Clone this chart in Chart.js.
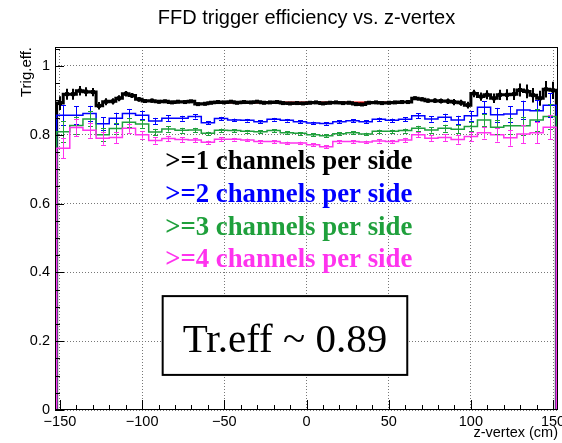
<!DOCTYPE html>
<html>
<head>
<meta charset="utf-8">
<script src="https://cdn.jsdelivr.net/npm/chart.js@4/dist/chart.umd.min.js"></script>
<style>
  html, body { margin: 0; padding: 0; background: #fff; }
</style>
</head>
<body>
<canvas id="chart" width="562" height="443"></canvas>
<script>
const titleText = 'FFD trigger efficiency vs. z-vertex';
const xTitle = 'z-vertex (cm)';
const yTitle = 'Trig.eff.';

// >=1 channel, 4 cm bins
const zFine = [
  -150, -146, -142, -138, -134, -130, -126, -122, -118, -114, -110, -106, -102, -98, -94,
  -90, -86, -82, -78, -74, -70, -66, -62, -58, -54, -50, -46, -42, -38, -34,
  -30, -26, -22, -18, -14, -10, -6, -2, 2, 6, 10, 14, 18, 22, 26,
  30, 34, 38, 42, 46, 50, 54, 58, 62, 66, 70, 74, 78, 82, 86,
  90, 94, 98, 102, 106, 110, 114, 118, 122, 126, 130, 134, 138, 142, 146, 150
];
const eff1 = [
  0.892, 0.918, 0.918, 0.928, 0.925, 0.924, 0.884, 0.896, 0.897, 0.906, 0.919, 0.914, 0.903, 0.898, 0.899,
  0.896, 0.897, 0.894, 0.896, 0.895, 0.897, 0.889, 0.890, 0.893, 0.895, 0.894, 0.896, 0.893, 0.895, 0.894,
  0.896, 0.893, 0.894, 0.895, 0.892, 0.891, 0.892, 0.891, 0.893, 0.894, 0.891, 0.893, 0.894, 0.892, 0.893,
  0.889, 0.888, 0.893, 0.894, 0.892, 0.893, 0.894, 0.895, 0.895, 0.906, 0.903, 0.899, 0.899, 0.898, 0.897,
  0.895, 0.893, 0.886, 0.920, 0.911, 0.916, 0.906, 0.916, 0.916, 0.918, 0.930, 0.926, 0.915, 0.906, 0.932, 0.929
];
const err1 = [
  0.020, 0.016, 0.016, 0.014, 0.013, 0.012, 0.011, 0.010, 0.009, 0.009, 0.008, 0.007, 0.007, 0.006, 0.006,
  0.005, 0.005, 0.005, 0.004, 0.004, 0.004, 0.004, 0.004, 0.003, 0.003, 0.003, 0.003, 0.003, 0.003, 0.003,
  0.003, 0.003, 0.003, 0.003, 0.003, 0.003, 0.003, 0.003, 0.003, 0.003, 0.003, 0.003, 0.003, 0.003, 0.003,
  0.003, 0.003, 0.003, 0.003, 0.004, 0.004, 0.004, 0.004, 0.005, 0.005, 0.006, 0.006, 0.007, 0.007, 0.008,
  0.009, 0.009, 0.010, 0.011, 0.012, 0.013, 0.014, 0.015, 0.016, 0.017, 0.019, 0.020, 0.021, 0.022, 0.024, 0.025
];

// >=2, >=3, >=4 channels, 8 cm bins
const zCoarse = [
  -148, -140, -132, -124, -116, -108, -100, -92, -84, -76, -68, -60, -52, -44, -36, -28, -20, -12, -4,
  4, 12, 20, 28, 36, 44, 52, 60, 68, 76, 84, 92, 100, 108, 116, 124, 132, 140, 148
];
const eff2 = [
  0.857, 0.857, 0.862, 0.832, 0.848, 0.862, 0.857, 0.840, 0.848, 0.848,
  0.853, 0.835, 0.847, 0.843, 0.842, 0.838, 0.845, 0.842, 0.838, 0.834,
  0.833, 0.838, 0.841, 0.838, 0.845, 0.842, 0.845, 0.855, 0.846, 0.851,
  0.843, 0.855, 0.880, 0.858, 0.860, 0.872, 0.870, 0.886
];
const eff3 = [
  0.809, 0.827, 0.846, 0.800, 0.818, 0.836, 0.831, 0.808, 0.817, 0.813,
  0.814, 0.804, 0.813, 0.812, 0.810, 0.809, 0.812, 0.806, 0.804, 0.800,
  0.797, 0.803, 0.806, 0.802, 0.810, 0.810, 0.812, 0.819, 0.814, 0.819,
  0.816, 0.824, 0.843, 0.822, 0.826, 0.826, 0.843, 0.853
];
const eff4 = [
  0.761, 0.821, 0.813, 0.790, 0.792, 0.819, 0.800, 0.783, 0.789, 0.786,
  0.785, 0.778, 0.787, 0.787, 0.785, 0.780, 0.780, 0.776, 0.776, 0.771,
  0.765, 0.780, 0.780, 0.779, 0.782, 0.780, 0.785, 0.800, 0.790, 0.792,
  0.786, 0.795, 0.806, 0.800, 0.791, 0.802, 0.806, 0.822
];
const errCoarse = [
  0.030, 0.026, 0.022, 0.019, 0.016, 0.013, 0.011, 0.009, 0.008, 0.007,
  0.006, 0.005, 0.005, 0.004, 0.004, 0.004, 0.004, 0.004, 0.004, 0.004,
  0.004, 0.004, 0.004, 0.004, 0.005, 0.005, 0.006, 0.007, 0.008, 0.010,
  0.012, 0.014, 0.017, 0.020, 0.023, 0.027, 0.031, 0.035
];

const fitRange = [-50, 50];
const fitValue = 0.894;

const labelLines = ['>=1 channels per side', '>=2 channels per side', '>=3 channels per side', '>=4 channels per side'];
const labelColors = ['#000000', '#0000ff', '#1fa03c', '#ff33ee'];
const labelY = [0.700, 0.605, 0.510, 0.415];
const boxText = 'Tr.eff ~ 0.89';

// histogram outline: points at bin centres plus the outer edges, drawn with stepped 'middle'
function histPoints(centers, values, width) {
  const lo = centers[0] - width / 2;
  const hi = centers[centers.length - 1] + width / 2;
  const pts = [{ x: lo, y: 0 }, { x: lo, y: values[0] }];
  centers.forEach((c, i) => pts.push({ x: c, y: values[i] }));
  pts.push({ x: hi, y: values[values.length - 1] }, { x: hi, y: 0 });
  return pts;
}

function histSet(label, centers, values, errs, width, color, lw, order, marker) {
  return {
    label,
    data: histPoints(centers, values, width),
    borderColor: color,
    borderWidth: lw,
    stepped: 'middle',
    pointRadius: 0,
    fill: false,
    order,
    bars: { x: centers, y: values, e: errs, marker },
  };
}

const errorBars = {
  id: 'errorBars',
  afterDatasetsDraw(chart) {
    const { ctx, chartArea, scales: { x, y } } = chart;
    ctx.save();
    ctx.beginPath();
    ctx.rect(chartArea.left, chartArea.top, chartArea.width, chartArea.height);
    ctx.clip();
    // same drawing order as the lines: higher order first
    const sets = chart.data.datasets.filter((d) => d.bars).sort((a, b) => b.order - a.order);
    sets.forEach((ds) => {
      const b = ds.bars;
      ctx.strokeStyle = ds.borderColor;
      ctx.fillStyle = ds.borderColor;
      ctx.lineWidth = b.marker ? 2 : 1;
      b.x.forEach((z, k) => {
        const px = Math.round(x.getPixelForValue(z)) + (b.marker ? 0 : 0.5);
        const yLo = y.getPixelForValue(b.y[k] - b.e[k]);
        const yHi = y.getPixelForValue(b.y[k] + b.e[k]);
        ctx.beginPath();
        ctx.moveTo(px, yLo);
        ctx.lineTo(px, yHi);
        if (!b.marker) {
          ctx.moveTo(px - 2.5, Math.round(yLo) + 0.5);
          ctx.lineTo(px + 2.5, Math.round(yLo) + 0.5);
          ctx.moveTo(px - 2.5, Math.round(yHi) + 0.5);
          ctx.lineTo(px + 2.5, Math.round(yHi) + 0.5);
        }
        ctx.stroke();
        if (b.marker) {
          const py = y.getPixelForValue(b.y[k]);
          ctx.fillRect(px - 2, py - 2, 4, 4);
        }
      });
    });
    ctx.restore();
  },
};

const rootFrame = {
  id: 'rootFrame',
  afterDraw(chart) {
    const { ctx, chartArea: { left, top, right, bottom }, scales: { x, y } } = chart;
    ctx.save();
    ctx.strokeStyle = '#000';
    ctx.lineWidth = 1;
    ctx.beginPath();
    // inward ticks on the x axis
    for (let v = -150; v <= 150; v += 10) {
      const px = Math.round(x.getPixelForValue(v)) + 0.5;
      const len = v % 50 === 0 ? 10 : 5;
      ctx.moveTo(px, bottom);
      ctx.lineTo(px, bottom - len);
    }
    // inward ticks on the y axis
    for (let i = 0; i <= 21; i++) {
      const py = Math.round(y.getPixelForValue(i * 0.05)) + 0.5;
      const len = i % 4 === 0 ? 9 : 5;
      ctx.moveTo(left, py);
      ctx.lineTo(left + len, py);
    }
    ctx.stroke();
    ctx.strokeRect(left + 0.5, top + 0.5, right - left - 1, bottom - top - 1);
    ctx.restore();
  },
};

const annotations = {
  id: 'annotations',
  afterDatasetsDraw(chart) {
    const { ctx, scales: { x, y } } = chart;
    ctx.save();
    ctx.textAlign = 'left';
    ctx.textBaseline = 'alphabetic';
    ctx.font = 'bold 26.8px "Liberation Serif"';
    labelLines.forEach((t, i) => {
      ctx.fillStyle = labelColors[i];
      ctx.fillText(t, x.getPixelForValue(-86), y.getPixelForValue(labelY[i]));
    });
    const bx0 = x.getPixelForValue(-87.5);
    const bx1 = x.getPixelForValue(61.3);
    const by0 = y.getPixelForValue(0.331);
    const by1 = y.getPixelForValue(0.102);
    ctx.fillStyle = '#fff';
    ctx.fillRect(bx0, by0, bx1 - bx0, by1 - by0);
    ctx.strokeStyle = '#000';
    ctx.lineWidth = 2;
    ctx.strokeRect(bx0, by0, bx1 - bx0, by1 - by0);
    ctx.fillStyle = '#000';
    ctx.textAlign = 'center';
    ctx.font = '41px "Liberation Serif"';
    ctx.fillText(boxText, (bx0 + bx1) / 2, y.getPixelForValue(0.169));
    ctx.restore();
  },
};

new Chart(document.getElementById('chart'), {
  type: 'line',
  data: {
    datasets: [
      {
        label: 'fit',
        data: [{ x: fitRange[0], y: fitValue }, { x: fitRange[1], y: fitValue }],
        borderColor: '#ff0000',
        borderWidth: 2,
        pointRadius: 0,
        order: 5,
      },
      histSet('>=1', zFine, eff1, err1, 4, '#000000', 3, 4, true),
      histSet('>=2', zCoarse, eff2, errCoarse, 8, '#0000ff', 1.5, 3, false),
      histSet('>=3', zCoarse, eff3, errCoarse, 8, '#1fa03c', 1.5, 2, false),
      histSet('>=4', zCoarse, eff4, errCoarse, 8, '#ff33ee', 1.5, 1, false),
    ],
  },
  options: {
    responsive: false,
    animation: false,
    devicePixelRatio: 1,
    layout: { padding: { left: 0, right: 4, top: 0, bottom: 0 } },
    scales: {
      x: {
        type: 'linear',
        min: -153,
        max: 153,
        afterFit(scale) {
          scale.height = 33;
          scale.paddingLeft = 0;
          scale.paddingRight = 0;
        },
        ticks: {
          stepSize: 50,
          includeBounds: false,
          autoSkip: false,
          maxRotation: 0,
          padding: 3,
          color: '#000',
          font: { family: '"Liberation Sans"', size: 14.5 },
          callback: (v) => (v < 0 ? '\u2212' + Math.abs(v) : String(v)),
        },
        grid: { color: '#777', lineWidth: 1, drawTicks: false },
        border: { display: false, dash: [1, 2] },
        title: {
          display: true,
          text: xTitle,
          align: 'end',
          color: '#000',
          font: { family: '"Liberation Sans"', size: 14.5 },
          padding: { top: 0, bottom: 1 },
        },
      },
      y: {
        min: 0,
        max: 1.055,
        afterFit(scale) {
          scale.width = 55;
          scale.paddingTop = 0;
          scale.paddingBottom = 0;
        },
        ticks: {
          stepSize: 0.2,
          includeBounds: false,
          padding: 5,
          color: '#000',
          font: { family: '"Liberation Sans"', size: 14.5 },
          callback: (v) => (v === 0 ? '0' : Math.abs(v - 1) < 1e-9 ? '1' : v.toFixed(1)),
        },
        grid: { color: '#777', lineWidth: 1, drawTicks: false },
        border: { display: false, dash: [1, 2] },
        title: {
          display: true,
          text: yTitle,
          align: 'end',
          color: '#000',
          font: { family: '"Liberation Sans"', size: 15 },
          padding: { top: 18, bottom: 0 },
        },
      },
    },
    plugins: {
      legend: { display: false },
      tooltip: { enabled: false },
      title: {
        display: true,
        text: titleText,
        fullSize: false,
        color: '#000',
        font: { family: '"Liberation Sans"', size: 20, weight: 'normal' },
        padding: { top: 6, bottom: 17 },
      },
    },
    events: [],
  },
  plugins: [errorBars, rootFrame, annotations],
});
</script>
</body>
</html>
